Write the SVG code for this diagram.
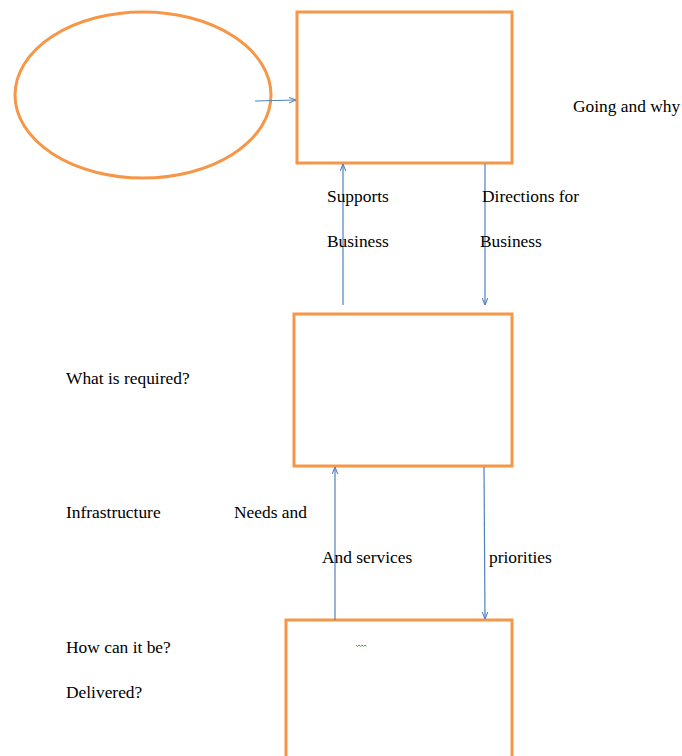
<svg xmlns="http://www.w3.org/2000/svg" width="682" height="756" viewBox="0 0 682 756">
<style>
.n{fill:#fff;stroke:#F79646;stroke-width:3}
.c{stroke:#4F81BD;stroke-width:1.2;fill:none}
text{font-family:"Liberation Serif","Times New Roman",serif;font-size:17.4px;fill:#000}
</style>
<defs>
<marker id="a" viewBox="0 0 10 10" refX="10" refY="5" markerWidth="7" markerHeight="7" orient="auto" markerUnits="userSpaceOnUse">
<path d="M0,1 L10,5 L0,9" fill="none" stroke="#4F81BD" stroke-width="1.5"/>
</marker>
</defs>
<rect width="682" height="756" fill="#fff"/>
<g id="ellipse"><ellipse class="n" cx="143" cy="95" rx="128" ry="83"/></g>
<g id="box1"><rect class="n" x="297" y="12" width="215" height="151"/></g>
<g id="box2"><rect class="n" x="294" y="314" width="218" height="152"/></g>
<g id="box3"><rect class="n" x="286" y="620" width="226" height="150"/></g>
<g id="connectors">
<line class="c" x1="255" y1="101" x2="296" y2="100" marker-end="url(#a)"/>
<line class="c" x1="343" y1="305" x2="343" y2="164" marker-end="url(#a)"/>
<line class="c" x1="485" y1="164" x2="485" y2="305" marker-end="url(#a)"/>
<line class="c" x1="335" y1="620" x2="335" y2="467" marker-end="url(#a)"/>
<line class="c" x1="484" y1="467" x2="485" y2="619" marker-end="url(#a)"/>
</g>
<g id="labels">
<text x="573" y="112">Going and why</text>
<text x="327" y="202">Supports</text>
<text x="327" y="247">Business</text>
<text x="482" y="202">Directions for</text>
<text x="480" y="247">Business</text>
<text x="66" y="384">What is required?</text>
<text x="66" y="518">Infrastructure</text>
<text x="234" y="518">Needs and</text>
<text x="322" y="563">And services</text>
<text x="489" y="563">priorities</text>
<text x="66" y="653">How can it be?</text>
<text x="66" y="698">Delivered?</text>
</g>
<path d="M356,645 l1.5,1.5 l1.5,-1.5 l1.5,1.5 l1.5,-1.5 l1.5,1.5 l1.5,-1.5 l1.5,1.5" fill="none" stroke="#3A9A3A" stroke-width="0.9"/>
</svg>
